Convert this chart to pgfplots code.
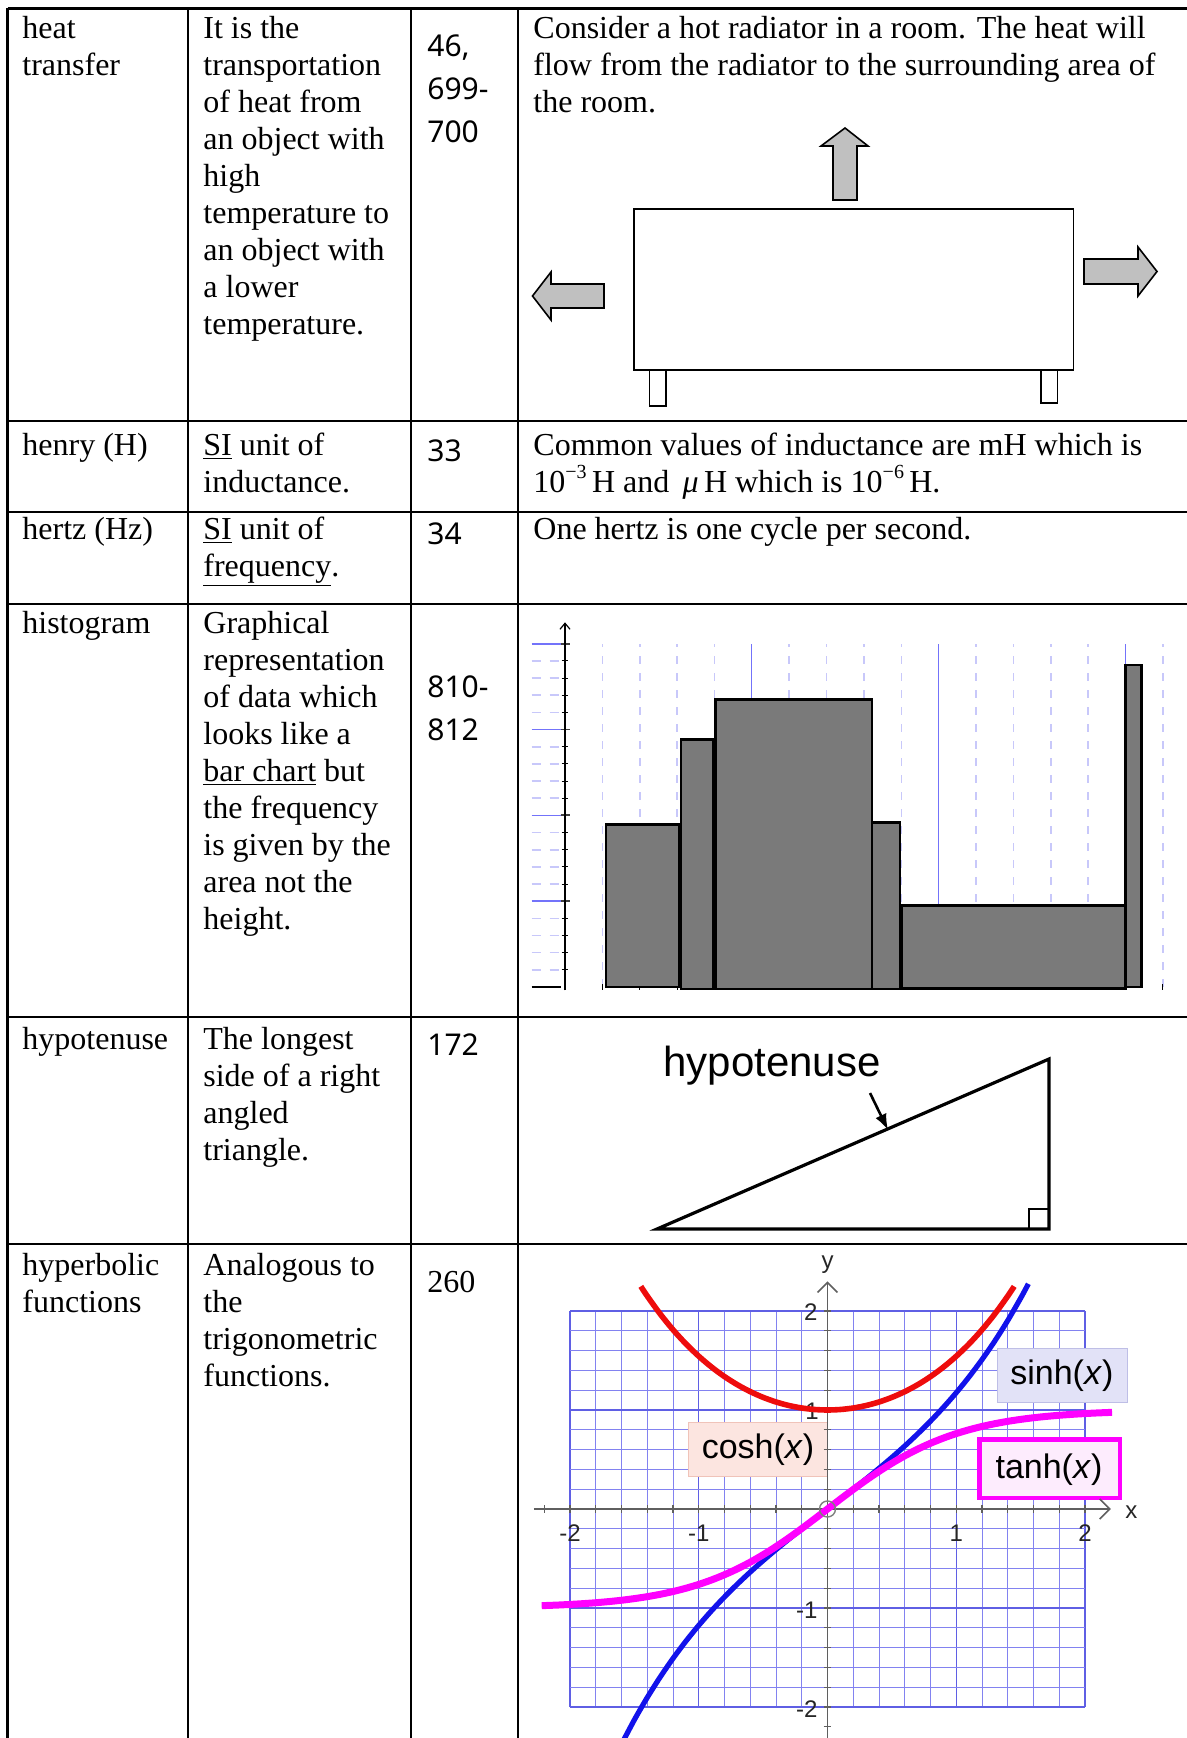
\documentclass[border=0pt]{standalone}
\usepackage{pgfplots}
\pgfplotsset{compat=1.18}
\usepackage{fontspec}
\setmainfont{Liberation Serif}
\newfontfamily\numfont{Noto Sans}
\newfontfamily\arial{Liberation Sans}
\usetikzlibrary{arrows.meta}
\definecolor{barg}{RGB}{122,122,122}
\definecolor{arrg}{RGB}{192,192,192}
\definecolor{hmaj}{RGB}{115,115,250}
\definecolor{hmin}{RGB}{200,200,250}
\definecolor{gmaj}{RGB}{95,95,228}
\definecolor{gmin}{RGB}{130,130,240}
\definecolor{cred}{RGB}{238,12,12}
\definecolor{cblue}{RGB}{18,18,235}
\definecolor{cmag}{RGB}{255,0,255}
\definecolor{sinhbg}{RGB}{226,226,247}
\definecolor{sinhbd}{RGB}{190,190,230}
\definecolor{coshbg}{RGB}{252,229,224}
\definecolor{coshbd}{RGB}{240,195,185}
\definecolor{tanhbg}{RGB}{253,236,253}
\definecolor{axg}{RGB}{95,95,95}
\newcommand{\sups}[1]{\raisebox{0.42em}{\fontsize{10}{11}\selectfont #1}}
\tikzset{
 tx/.style={anchor=base west, inner sep=0pt, font=\fontsize{16}{19}\selectfont},
 nm/.style={anchor=base west, inner sep=0pt, font=\numfont\fontsize{15}{18}\selectfont},
 tl/.style={font=\arial\fontsize{12}{14}\selectfont, text=black!85, inner sep=0pt},
}
\begin{document}
\begin{tikzpicture}
\path[use as bounding box] (0,0) rectangle (593.5pt,869pt);
\clip (0,0) rectangle (593.5pt,869pt);
\fill[white] (0,0) rectangle (593.5pt,869pt);
% ================= master axis in pixel units =================
\begin{axis}[at={(0pt,0pt)}, anchor=south west, x=0.5pt, y=0.5pt, y dir=reverse,
  xmin=0, xmax=1187, ymin=0, ymax=1738, hide axis, clip=false]
% table rules
\addplot[black, line width=1.4pt] coordinates {(7.5,8.5) (1200,8.5)};
\addplot[black, line width=1.4pt] coordinates {(7.5,421) (1200,421)};
\addplot[black, line width=1.4pt] coordinates {(7.5,512) (1200,512)};
\addplot[black, line width=1.4pt] coordinates {(7.5,604) (1200,604)};
\addplot[black, line width=1.4pt] coordinates {(7.5,1017) (1200,1017)};
\addplot[black, line width=1.4pt] coordinates {(7.5,1244) (1200,1244)};
\addplot[black, line width=1.4pt] coordinates {(7.5,8) (7.5,1750)};
\addplot[black, line width=1.4pt] coordinates {(188,8) (188,1750)};
\addplot[black, line width=1.4pt] coordinates {(411,8) (411,1750)};
\addplot[black, line width=1.4pt] coordinates {(518,8) (518,1750)};
% radiator
\addplot[fill=white, draw=black, line width=0.9pt] coordinates {(634,209) (1073.5,209) (1073.5,370) (634,370)} -- cycle;
\addplot[fill=white, draw=black, line width=0.9pt] coordinates {(649.5,370) (666,370) (666,406) (649.5,406)} -- cycle;
\addplot[fill=white, draw=black, line width=0.9pt] coordinates {(1041,370) (1057.5,370) (1057.5,403) (1041,403)} -- cycle;
\addplot[fill=arrg, draw=black, line width=0.8pt] coordinates {(833,200) (857,200) (857,146) (868,146) (845,128) (821,146) (833,146)} -- cycle;
\addplot[fill=arrg, draw=black, line width=0.8pt] coordinates {(604,284) (551,284) (551,272) (532.5,296) (551,320) (551,308) (604,308)} -- cycle;
\addplot[fill=arrg, draw=black, line width=0.8pt] coordinates {(1084,259) (1138,259) (1138,247) (1157,271.5) (1138,296) (1138,284) (1084,284)} -- cycle;
% triangle
\addplot[draw=black, line width=1.6pt] coordinates {(657,1229) (1049,1059) (1049,1229)} -- cycle;
\addplot[draw=black, line width=1pt] coordinates {(1029,1229) (1029,1209) (1049,1209)};
\addplot[draw=black, line width=1.3pt, -{Latex[length=8pt,width=6pt]}] coordinates {(870,1093) (888,1130)};
\node[anchor=base west, inner sep=0pt, font=\arial\fontsize{21}{24}\selectfont] at (axis cs:663,1076) {hypotenuse};
% ---- row 1
\node[tx] at (axis cs:22,39) {heat};
\node[tx] at (axis cs:22,76) {transfer};
\node[tx] at (axis cs:203,39) {It is the};
\node[tx] at (axis cs:203,76) {transportation};
\node[tx] at (axis cs:203,113) {of heat from};
\node[tx] at (axis cs:203,150) {an object with};
\node[tx] at (axis cs:203,187) {high};
\node[tx] at (axis cs:203,224) {temperature to};
\node[tx] at (axis cs:203,261) {an object with};
\node[tx] at (axis cs:203,298) {a lower};
\node[tx] at (axis cs:203,335) {temperature.};
\node[nm] at (axis cs:427,57) {46,};
\node[nm] at (axis cs:427,100) {699-};
\node[nm] at (axis cs:427,143) {700};
\node[tx] at (axis cs:533,39) {Consider a hot radiator in a room. The heat will};
\node[tx] at (axis cs:533,76) {flow from the radiator to the surrounding area of};
\node[tx] at (axis cs:533,113) {the room.};
% ---- row 2
\node[tx] at (axis cs:22,455) {henry (H)};
\node[tx] at (axis cs:203,455) {\underline{SI} unit of};
\node[tx] at (axis cs:203,492) {inductance.};
\node[nm] at (axis cs:427,461) {33};
\node[tx] at (axis cs:533,455) {Common values of inductance are mH which is};
\node[tx] at (axis cs:533,492) {10\sups{−3}\,H and \,\textit{μ}\,H which is 10\sups{−6}\,H.};
% ---- row 3
\node[tx] at (axis cs:22,539) {hertz (Hz)};
\node[tx] at (axis cs:203,539) {\underline{SI} unit of};
\node[tx] at (axis cs:203,576) {\underline{frequency}.};
\node[nm] at (axis cs:427,544) {34};
\node[tx] at (axis cs:533,539) {One hertz is one cycle per second.};
% ---- row 4
\node[tx] at (axis cs:22,633) {histogram};
\node[tx] at (axis cs:203,633) {Graphical};
\node[tx] at (axis cs:203,670) {representation};
\node[tx] at (axis cs:203,707) {of data which};
\node[tx] at (axis cs:203,744) {looks like a};
\node[tx] at (axis cs:203,781) {\underline{bar chart} but};
\node[tx] at (axis cs:203,818) {the frequency};
\node[tx] at (axis cs:203,855) {is given by the};
\node[tx] at (axis cs:203,892) {area not the};
\node[tx] at (axis cs:203,929) {height.};
\node[nm] at (axis cs:427,697) {810-};
\node[nm] at (axis cs:427,740) {812};
% ---- row 5
\node[tx] at (axis cs:22,1049) {hypotenuse};
\node[tx] at (axis cs:203,1049) {The longest};
\node[tx] at (axis cs:203,1086) {side of a right};
\node[tx] at (axis cs:203,1123) {angled};
\node[tx] at (axis cs:203,1160) {triangle.};
\node[nm] at (axis cs:427,1055) {172};
% ---- row 6
\node[tx] at (axis cs:22,1275) {hyperbolic};
\node[tx] at (axis cs:22,1312) {functions};
\node[tx] at (axis cs:203,1275) {Analogous to};
\node[tx] at (axis cs:203,1312) {the};
\node[tx] at (axis cs:203,1349) {trigonometric};
\node[tx] at (axis cs:203,1386) {functions.};
\node[tx] at (axis cs:427,1292) {260};
\end{axis}
% ================= histogram =================
\begin{axis}[at={(265.87pt,375.5pt)}, anchor=south west, x=18.685pt, y=42.9pt,
  xmin=-0.89, xmax=16.5, ymin=0, ymax=4, clip=false,
  axis line style={draw=none}, tick style={draw=none},
  xtick={5,10,15}, minor xtick={1,2,3,4,6,7,8,9,11,12,13,14,16},
  ytick=\empty, xticklabels={},
  xmajorgrids=true, xminorgrids=true,
  major grid style={hmaj, line width=0.6pt},
  minor grid style={hmin, line width=0.8pt, dash pattern=on 4pt off 4.5pt}]
\pgfplotsinvokeforeach{0.2,0.4,0.6,0.8,1.2,1.4,1.6,1.8,2.2,2.4,2.6,2.8,3.2,3.4,3.6,3.8}{
  \draw[hmin, line width=0.8pt, dash pattern=on 4.5pt off 4.5pt] (axis cs:-0.89,#1) -- (axis cs:-0.05,#1);
  \draw[black, line width=0.5pt] (axis cs:-0.09,#1) -- (axis cs:0.09,#1);
}
\pgfplotsinvokeforeach{1,2,3,4}{
  \draw[hmaj, line width=0.8pt] (axis cs:-0.89,#1) -- (axis cs:0,#1);
  \draw[black!75, line width=0.9pt] (axis cs:-0.12,#1) -- (axis cs:0.14,#1);
}
\pgfplotsinvokeforeach{1,2,3,4,5,6,7,8,9,10,11,12,13,14,15,16}{
  \draw[black, line width=0.5pt] (axis cs:#1,0.03) -- (axis cs:#1,-0.04);
}
\addplot[black, line width=1.4pt] coordinates {(-0.89,0) (-0.12,0)};
\addplot[fill=barg, draw=black, line width=1.3pt] coordinates {(1.10,0) (1.10,1.895) (3.05,1.895) (3.05,0)} -- cycle;
\addplot[fill=barg, draw=black, line width=1.3pt] coordinates {(3.10,-0.025) (3.10,2.882) (3.96,2.882) (3.96,-0.025)} -- cycle;
\addplot[fill=barg, draw=black, line width=1.3pt] coordinates {(4.02,-0.025) (4.02,3.351) (8.22,3.351) (8.22,-0.025)} -- cycle;
\addplot[fill=barg, draw=black, line width=1.3pt] coordinates {(8.22,-0.025) (8.22,1.918) (8.96,1.918) (8.96,-0.025)} -- cycle;
\addplot[fill=barg, draw=black, line width=1.3pt] coordinates {(9.02,-0.02) (9.02,0.948) (15.00,0.948) (15.00,-0.02)} -- cycle;
\addplot[fill=barg, draw=black, line width=1.3pt] coordinates {(15.00,0) (15.00,3.751) (15.42,3.751) (15.42,0)} -- cycle;
\addplot[black, line width=0.6pt, -{Straight Barb[length=3pt,width=5pt]}] coordinates {(0,-0.04) (0,4.25)};
\end{axis}
% ================= hyperbolic functions =================
\begin{axis}[at={(285pt,15.5pt)}, anchor=south west, x=64.375pt, y=49.5pt,
  xmin=-2, xmax=2, ymin=-2, ymax=2, clip=false,
  axis line style={draw=none}, tick style={draw=none},
  xtick={-2,-1,0,1,2}, ytick={-2,-1,0,1,2}, minor tick num=4,
  xticklabels={}, yticklabels={}, grid=both,
  major grid style={gmaj, line width=0.6pt},
  minor grid style={gmin, line width=0.45pt}]
% label boxes
\addplot[fill=sinhbg, draw=sinhbd, line width=0.5pt] coordinates {(1.32,1.08) (2.33,1.08) (2.33,1.62) (1.32,1.62)} -- cycle;
\addplot[fill=coshbg, draw=coshbd, line width=0.5pt] coordinates {(-1.08,0.33) (0.0,0.33) (0.0,0.87) (-1.08,0.87)} -- cycle;
\addplot[fill=tanhbg, draw=cmag, line width=2.2pt] coordinates {(1.18,0.11) (2.27,0.11) (2.27,0.70) (1.18,0.70)} -- cycle;
\node[font=\arial\fontsize{17}{20}\selectfont] at (axis cs:1.82,1.35) {sinh(\textit{x})};
\node[font=\arial\fontsize{17}{20}\selectfont] at (axis cs:-0.54,0.60) {cosh(\textit{x})};
\node[font=\arial\fontsize{17}{20}\selectfont] at (axis cs:1.72,0.40) {tanh(\textit{x})};
% axes
\addplot[axg, line width=0.8pt, -{Straight Barb[length=5pt,width=10pt]}] coordinates {(-2.28,0) (2.2,0)};
\addplot[axg, line width=0.8pt, -{Straight Barb[length=5pt,width=10pt]}] coordinates {(0,-2.5) (0,2.3)};
\pgfplotsinvokeforeach{-2.2,-2,-1.8,-1.6,-1.4,-1.2,-1,-0.8,-0.6,-0.4,-0.2,0.2,0.4,0.6,0.8,1,1.2,1.4,1.6,1.8,2}{
  \draw[axg, line width=0.6pt] (axis cs:#1,-0.04) -- (axis cs:#1,0.04);
  \draw[axg, line width=0.6pt] (axis cs:-0.03,#1) -- (axis cs:0.03,#1);
}
\node[tl, font=\arial\fontsize{12}{14}\selectfont] at (axis cs:2.36,-0.03) {x};
\node[tl, font=\arial\fontsize{12}{14}\selectfont] at (axis cs:0,2.47) {y};
\node[tl] at (axis cs:-2.0,-0.24) {-2};
\node[tl] at (axis cs:-1.0,-0.24) {-1};
\node[tl] at (axis cs:1.0,-0.24) {1};
\node[tl] at (axis cs:2.0,-0.24) {2};
\node[tl] at (axis cs:-0.13,1.99) {2};
\node[tl] at (axis cs:-0.12,0.99) {1};
\node[tl] at (axis cs:-0.16,-1.02) {-1};
\node[tl] at (axis cs:-0.16,-2.02) {-2};
% curves
\addplot[cred, line width=2.8pt, smooth] coordinates {
(-1.45,2.2488) (-1.4,2.1509) (-1.3,1.9709) (-1.2,1.8107) (-1.1,1.6685) (-1.0,1.5431)
(-0.9,1.4331) (-0.8,1.3374) (-0.7,1.2552) (-0.6,1.1855) (-0.5,1.1276) (-0.4,1.0811)
(-0.3,1.0453) (-0.2,1.0201) (-0.1,1.0050) (0,1) (0.1,1.0050) (0.2,1.0201) (0.3,1.0453)
(0.4,1.0811) (0.5,1.1276) (0.6,1.1855) (0.7,1.2552) (0.8,1.3374) (0.9,1.4331)
(1.0,1.5431) (1.1,1.6685) (1.2,1.8107) (1.3,1.9709) (1.4,2.1509) (1.45,2.2488)};
\addplot[cblue, line width=2.6pt, smooth] coordinates {
(-1.6,-2.3756) (-1.5,-2.1293) (-1.4,-1.9043) (-1.3,-1.6984) (-1.2,-1.5095) (-1.1,-1.3356)
(-1.0,-1.1752) (-0.9,-1.0265) (-0.8,-0.8881) (-0.7,-0.7586) (-0.6,-0.6367) (-0.5,-0.5211)
(-0.4,-0.4108) (-0.3,-0.3045) (-0.2,-0.2013) (-0.1,-0.1002) (0,0) (0.1,0.1002) (0.2,0.2013)
(0.3,0.3045) (0.4,0.4108) (0.5,0.5211) (0.6,0.6367) (0.7,0.7586) (0.8,0.8881) (0.9,1.0265)
(1.0,1.1752) (1.1,1.3356) (1.2,1.5095) (1.3,1.6984) (1.4,1.9043) (1.5,2.1293) (1.56,2.2743)};
\addplot[cmag, line width=3.5pt, smooth] coordinates {
(-2.22,-0.9765) (-2.1,-0.9705) (-2.0,-0.9640) (-1.9,-0.9562) (-1.8,-0.9468) (-1.7,-0.9354)
(-1.6,-0.9217) (-1.5,-0.9051) (-1.4,-0.8854) (-1.3,-0.8617) (-1.2,-0.8337) (-1.1,-0.8005)
(-1.0,-0.7616) (-0.9,-0.7163) (-0.8,-0.6640) (-0.7,-0.6044) (-0.6,-0.5370) (-0.5,-0.4621)
(-0.4,-0.3799) (-0.3,-0.2913) (-0.2,-0.1974) (-0.1,-0.0997) (0,0) (0.1,0.0997) (0.2,0.1974)
(0.3,0.2913) (0.4,0.3799) (0.5,0.4621) (0.6,0.5370) (0.7,0.6044) (0.8,0.6640) (0.9,0.7163)
(1.0,0.7616) (1.1,0.8005) (1.2,0.8337) (1.3,0.8617) (1.4,0.8854) (1.5,0.9051) (1.6,0.9217)
(1.7,0.9354) (1.8,0.9468) (1.9,0.9562) (2.0,0.9640) (2.1,0.9705) (2.21,0.9762)};
\draw[gray, line width=0.7pt] (axis cs:0,0) circle[radius=4pt];
\end{axis}
\end{tikzpicture}
\end{document}
